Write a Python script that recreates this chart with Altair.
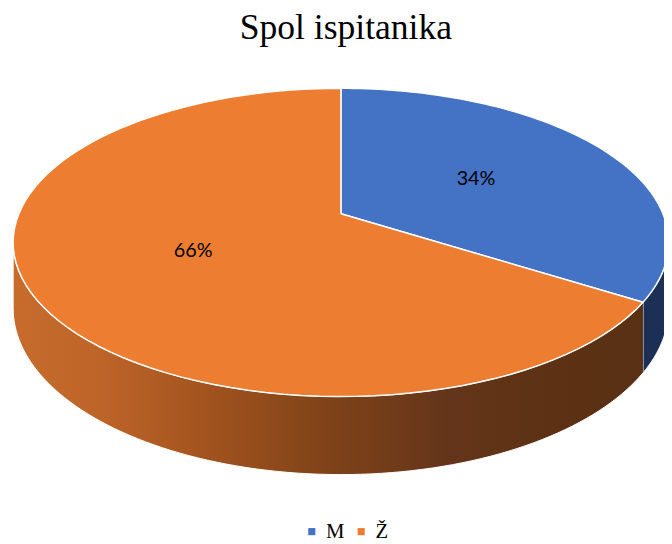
import altair as alt
import pandas as pd

# ---- data ----
labels = ["M", "Ž"]
values = [34, 66]
colors = ["#4472C4", "#ED7D31"]
title_text = "Spol ispitanika"

# ---- 3D-pie projection (style / layout constants) ----
CX, CY = 345, 213        # projected pie centre (px)
A, B = 326, 150.6        # horizontal / vertical radii
K = 0.186                # perspective factor
D = 64.3                 # depth of the pie side
N = 90                   # arc resolution
LR = 0.5                 # label radius fraction

df = pd.DataFrame({"label": labels, "value": values})

XS = alt.Scale(domain=[8, 672], nice=False, zero=False)
YS = alt.Scale(domain=[68, 544], nice=False, zero=False, reverse=True)

base = (
    alt.Chart(df)
    .transform_joinaggregate(total="sum(value)")
    .transform_window(cum="sum(value)", frame=[None, 0])
    .transform_calculate(
        a0="(datum.cum - datum.value) / datum.total * 2 * PI",
        a1="datum.cum / datum.total * 2 * PI",
    )
)

# top faces
top = (
    base.transform_calculate(step=f"sequence(-1, {N + 2})")
    .transform_flatten(["step"])
    .transform_calculate(
        t=f"clamp(datum.step, 0, {N}) / {N}",
        theta="datum.a0 + (datum.a1 - datum.a0) * datum.t",
        u="sin(datum.theta)",
        v="cos(datum.theta)",
        w=f"1 + {K} * datum.v",
        px=f"(datum.step < 0 || datum.step > {N}) ? {CX} : {CX} + {A} * datum.u / datum.w",
        py=f"(datum.step < 0 || datum.step > {N}) ? {CY} : {CY} - {B} * datum.v / datum.w",
    )
    .mark_line(stroke="white", strokeWidth=1.5, strokeJoin="round")
    .encode(
        x=alt.X("px:Q", scale=XS, axis=None),
        y=alt.Y("py:Q", scale=YS, axis=None),
        order=alt.Order("step:Q"),
        fill=alt.Fill(
            "label:N",
            scale=alt.Scale(domain=labels, range=colors),
            legend=alt.Legend(
                title=None,
                orient="none",
                legendX=297,
                legendY=456,
                direction="horizontal",
                symbolType="square",
                symbolSize=52,
                symbolStrokeWidth=0,
                labelFont="Liberation Serif",
                labelFontSize=21,
                labelColor="black",
                labelOffset=4,
                columnPadding=6,
                padding=0,
            ),
        ),
        detail="label:N",
    )
)

# side walls
side = (
    base.transform_calculate(
        s0=f"max(datum.a0, acos(-{K}))",
        s1=f"min(datum.a1, 2 * PI - acos(-{K}))",
    )
    .transform_filter("datum.s1 > datum.s0")
    .transform_calculate(step=f"sequence(0, {2 * N + 2})")
    .transform_flatten(["step"])
    .transform_calculate(
        bottom=f"datum.step > {N} ? 1 : 0",
        t=f"datum.step <= {N} ? datum.step / {N} : ({2 * N + 1} - datum.step) / {N}",
        theta="datum.s0 + (datum.s1 - datum.s0) * datum.t",
        u="sin(datum.theta)",
        v="cos(datum.theta)",
        w=f"1 + {K} * datum.v",
        px=f"{CX} + {A} * datum.u / datum.w",
        py=f"{CY} - {B} * datum.v / datum.w + datum.bottom * {D} / datum.w",
    )
    .encode(
        x=alt.X("px:Q", scale=XS, axis=None),
        y=alt.Y("py:Q", scale=YS, axis=None),
        order=alt.Order("step:Q"),
        detail="label:N",
    )
)

orange_grad = alt.Gradient(
    gradient="linear",
    x1=0, x2=1, y1=0, y2=0,
    stops=[
        alt.GradientStop(color="#c76c2c", offset=0),
        alt.GradientStop(color="#bd6429", offset=0.14),
        alt.GradientStop(color="#a5551f", offset=0.29),
        alt.GradientStop(color="#7f4319", offset=0.5),
        alt.GradientStop(color="#64351a", offset=0.69),
        alt.GradientStop(color="#5c3114", offset=0.86),
        alt.GradientStop(color="#5a3014", offset=1),
    ],
)

side_m = side.transform_filter(f"datum.label == '{labels[0]}'").mark_line(
    fill="#1c2f54", stroke="white", strokeWidth=1
)
side_z = side.transform_filter(f"datum.label == '{labels[1]}'").mark_line(
    fill=orange_grad, stroke="white", strokeWidth=1
)

# percentage labels
txt = (
    base.transform_calculate(
        mid="(datum.a0 + datum.a1) / 2",
        u=f"{LR} * sin(datum.mid)",
        v=f"{LR} * cos(datum.mid)",
        w=f"1 + {K} * datum.v",
        px=f"{CX} + {A} * datum.u / datum.w",
        py=f"{CY} - {B} * datum.v / datum.w",
        pct="format(datum.value / datum.total, '.0%')",
    )
    .mark_text(font="Lato", fontSize=20, color="black", baseline="middle", align="center")
    .encode(
        x=alt.X("px:Q", scale=XS, axis=None),
        y=alt.Y("py:Q", scale=YS, axis=None),
        text="pct:N",
    )
)

chart = (
    alt.layer(side_m, side_z, top, txt)
    .properties(
        width=664,
        height=476,
        autosize=alt.AutoSizeParams(type="none"),
        padding={"left": 0, "top": 60, "right": 0, "bottom": 0},
        title=alt.Title(
            title_text,
            font="Liberation Serif",
            fontSize=36,
            fontWeight="normal",
            color="black",
            anchor="middle",
            frame="group",
            baseline="bottom",
            offset=-12,
            dx=10,
        ),
        background="white",
    )
    .configure_view(stroke=None)
)

chart.save("out.html", embed_options={"renderer": "svg", "actions": False})
